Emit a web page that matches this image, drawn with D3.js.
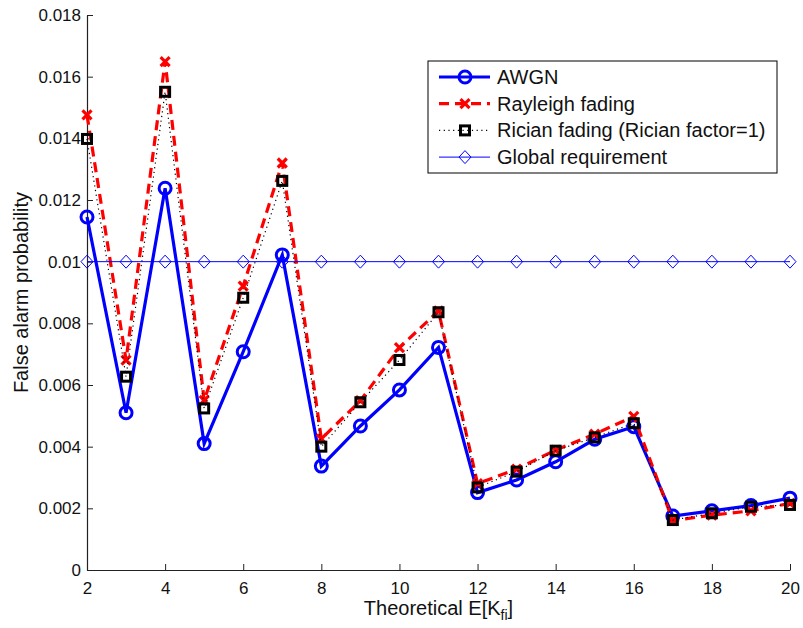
<!DOCTYPE html>
<html>
<head>
<meta charset="utf-8">
<script src="https://cdn.jsdelivr.net/npm/d3@7"></script>
<style>
body { margin: 0; background: #fff; }
text { font-family: "Liberation Sans", Arial, sans-serif; }
</style>
</head>
<body>
<script>
// values
var kValues = [2, 3, 4, 5, 6, 7, 8, 9, 10, 11, 12, 13, 14, 15, 16, 17, 18, 19, 20];
var awgn = [0.01145, 0.0051, 0.01238, 0.0041, 0.00708, 0.01022, 0.00337, 0.00467, 0.00584, 0.00722,
            0.00251, 0.00292, 0.00351, 0.00424, 0.00465, 0.00175, 0.00192, 0.00209, 0.00233];
var rayleigh = [0.01476, 0.00681, 0.01649, 0.0055, 0.00921, 0.0132, 0.00425, 0.00549, 0.00721, 0.0084,
                0.0028, 0.00327, 0.00389, 0.00441, 0.00498, 0.0016, 0.00178, 0.00192, 0.00216];
var rician = [0.01398, 0.00627, 0.01551, 0.00524, 0.00883, 0.01262, 0.004, 0.00544, 0.00681, 0.00836,
              0.00268, 0.00319, 0.00387, 0.0043, 0.00476, 0.00162, 0.00184, 0.00205, 0.00211];
var requirement = kValues.map(function () { return 0.01; });
var xTicks = [2, 4, 6, 8, 10, 12, 14, 16, 18, 20];
var yTicks = [0, 0.002, 0.004, 0.006, 0.008, 0.01, 0.012, 0.014, 0.016, 0.018];
var legendNames = ["AWGN", "Rayleigh fading", "Rician fading (Rician factor=1)", "Global requirement"];

var screen = {width: 803, height: 628};
var margins = {left: 87, right: 13, top: 15, bottom: 58};
var graph = {
    width: screen.width - margins.left - margins.right,
    height: screen.height - margins.top - margins.bottom
};

var xScale = d3.scaleLinear().domain([2, 20]).range([0, graph.width]);
var yScale = d3.scaleLinear().domain([0, 0.018]).range([graph.height, 0]);

var svg = d3.select("body").append("svg")
    .attr("width", screen.width)
    .attr("height", screen.height);

var plot = svg.append("g")
    .attr("transform", "translate(" + margins.left + "," + margins.top + ")");

// axes (MATLAB style: inward ticks, no box)
var xAxis = d3.axisBottom(xScale).tickValues(xTicks).tickSizeInner(-6).tickSizeOuter(0).tickPadding(12)
    .tickFormat(d3.format("d"));
var yAxis = d3.axisLeft(yScale).tickValues(yTicks).tickSizeInner(-6).tickSizeOuter(0).tickPadding(6)
    .tickFormat(function (d) { return d === 0 ? "0" : String(+d.toFixed(3)); });

var gx = plot.append("g").attr("transform", "translate(0," + graph.height + ")").call(xAxis);
var gy = plot.append("g").call(yAxis);
[gx, gy].forEach(function (g) {
    g.selectAll("path").attr("stroke", "#222").attr("stroke-width", 1.2);
    g.selectAll("line").attr("stroke", "#222").attr("stroke-width", 1);
    g.selectAll("text").attr("font-size", 17).attr("fill", "#111")
        .style("font-family", "'Liberation Sans', Arial, sans-serif");
});

var makeLine = function (vals) {
    return d3.line()
        .x(function (d, i) { return xScale(kValues[i]); })
        .y(function (d) { return yScale(d); })(vals);
};

var series = [
    {vals: awgn, color: "#0000ff", width: 3.2, dash: null, marker: "circle"},
    {vals: rayleigh, color: "#ff0000", width: 3.2, dash: "10,6", marker: "cross"},
    {vals: rician, color: "#000", width: 1.2, dash: "1.2,3.5", marker: "square"},
    {vals: requirement, color: "#0000ff", width: 1, dash: null, marker: "diamond"}
];

var drawMarker = function (g, type, x, y, color) {
    if (type === "circle") {
        g.append("circle").attr("cx", x).attr("cy", y).attr("r", 6)
            .attr("fill", "none").attr("stroke", color).attr("stroke-width", 3);
    } else if (type === "cross") {
        g.append("path").attr("d", "M" + (x - 4.5) + "," + (y - 4.5) + "L" + (x + 4.5) + "," + (y + 4.5) +
            "M" + (x - 4.5) + "," + (y + 4.5) + "L" + (x + 4.5) + "," + (y - 4.5))
            .attr("stroke", color).attr("stroke-width", 3.2).attr("fill", "none");
    } else if (type === "square") {
        g.append("rect").attr("x", x - 4.5).attr("y", y - 4.5).attr("width", 9).attr("height", 9)
            .attr("fill", "none").attr("stroke", color).attr("stroke-width", 3);
    } else {
        g.append("path").attr("d", "M" + x + "," + (y - 6.5) + "L" + (x + 6) + "," + y + "L" + x + "," + (y + 6.5) +
            "L" + (x - 6) + "," + y + "Z")
            .attr("fill", "none").attr("stroke", color).attr("stroke-width", 1);
    }
};

series.forEach(function (s) {
    plot.append("path")
        .attr("d", makeLine(s.vals))
        .attr("fill", "none")
        .attr("stroke", s.color)
        .attr("stroke-width", s.width)
        .attr("stroke-dasharray", s.dash)
        .attr("stroke-linejoin", "miter");
    var mg = plot.append("g");
    s.vals.forEach(function (v, i) {
        drawMarker(mg, s.marker, xScale(kValues[i]), yScale(v), s.color);
    });
});

// axis labels
svg.append("text")
    .attr("x", margins.left + graph.width / 2).attr("y", 615)
    .attr("text-anchor", "middle").attr("font-size", 20).attr("fill", "#111")
    .html("Theoretical E[K<tspan font-size='14' dy='5'>fi</tspan><tspan dy='-5'>]</tspan>");

svg.append("text")
    .attr("transform", "translate(28," + (margins.top + graph.height / 2) + ") rotate(-90)")
    .attr("text-anchor", "middle").attr("font-size", 20).attr("fill", "#111")
    .text("False alarm probability");

// legend
var legend = svg.append("g").attr("transform", "translate(428,61)");
legend.append("rect").attr("width", 349).attr("height", 112)
    .attr("fill", "#fff").attr("stroke", "#000").attr("stroke-width", 1);
series.forEach(function (s, i) {
    var y = 16 + i * 26.7;
    legend.append("line").attr("x1", 11).attr("x2", 62).attr("y1", y).attr("y2", y)
        .attr("stroke", s.color).attr("stroke-width", s.width).attr("stroke-dasharray", s.dash);
    drawMarker(legend, s.marker, 37, y, s.color);
    legend.append("text").attr("x", 69).attr("y", y + 7)
        .attr("font-size", 20).attr("fill", "#111").text(legendNames[i]);
});
</script>
</body>
</html>
